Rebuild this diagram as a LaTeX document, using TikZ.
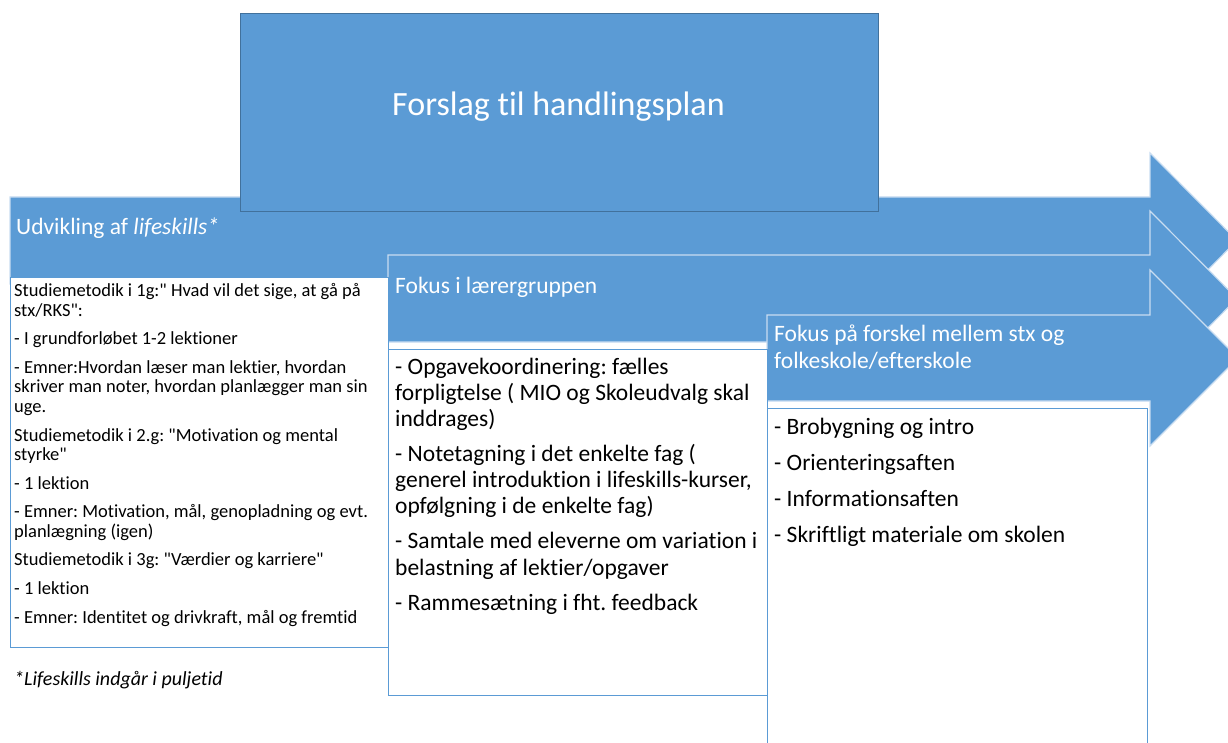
\documentclass[tikz,border=0pt]{standalone}
\usepackage{fontspec}
\setmainfont{Carlito}[Ligatures={TeX,NoCommon}]
\usetikzlibrary{positioning}
\tikzset{>=latex}
\frenchspacing
\definecolor{planblaa}{HTML}{5B9BD5}
\definecolor{kantblaa}{HTML}{41719C}
\definecolor{lysblaa}{HTML}{C9DDF1}
\newcommand{\anf}{\textquotedbl}
\tikzset{
  pilform/.style={fill=planblaa,draw=lysblaa,line width=1.2pt,line join=miter},
  feltboks/.style={fill=white,draw=planblaa,line width=1pt},
  overskrift/.style={anchor=base west,inner sep=0pt,text=white,align=left,font=\fontsize{23.5}{26.3}\selectfont},
  punktliste/.style={anchor=base west,inner sep=0pt,align=left}
}

\begin{document}
\begin{tikzpicture}[x=1pt,y=-1pt]
      \useasboundingbox (0,0) rectangle (1228,743);
      \clip (0,0) rectangle (1228,743);

      \draw [pilform] (10,197) -- (1150,197) -- (1150,153) -- (1237,240.5) -- (1150,328) -- (1150,284) -- (10,284) -- cycle;
      \node [fill=planblaa,draw=kantblaa,line width=1pt,minimum width=638pt,minimum height=198pt] (titel) at (559,113) {};
      \node [anchor=base,inner sep=0pt,text=white,font=\fontsize{34}{40}\selectfont] (titeltekst) at (558.5,116) {Forslag til handlingsplan};
      \draw [pilform] (388,255) -- (1150,255) -- (1150,211) -- (1237,298.5) -- (1150,386) -- (1150,342) -- (388,342) -- cycle;
      \draw [pilform] (767,315) -- (1150,315) -- (1150,270) -- (1238,358) -- (1150,446) -- (1150,401) -- (767,401) -- cycle;

      \draw [feltboks] (10,277) rectangle (388,647);
      \draw [feltboks] (388,349) rectangle (767,695);
      \draw [feltboks] (767,408) rectangle (1147,760);

      \node [overskrift] (livsfaerdighed) at (16,235) {Udvikling af \textit{lifeskills*}};
      \node [overskrift] (laerergruppe) at (395,294) {Fokus i lærergruppen};
      \node [overskrift] (overgang) at (774,368) {Fokus på forskel mellem stx og\\folkeskole/efterskole};

      \node [punktliste,font=\fontsize{18.5}{19.5}\selectfont] (studiemetodik) at (14,623)
        {Studiemetodik i 1g:\anf{} Hvad vil det sige, at gå på\\
         stx/RKS\anf:\\[9.1pt]
         - I grundforløbet 1-2 lektioner\\[9.1pt]
         - Emner:Hvordan læser man lektier, hvordan\\
         skriver man noter, hvordan planlægger man sin\\
         uge.\\[9.1pt]
         Studiemetodik i 2.g: \anf Motivation og mental\\
         styrke\anf\\[9.1pt]
         - 1 lektion\\[9.1pt]
         - Emner: Motivation, mål, genopladning og evt.\\
         planlægning (igen)\\[9.1pt]
         Studiemetodik i 3g: \anf Værdier og karriere\anf\\[9.1pt]
         - 1 lektion\\[9.1pt]
         - Emner: Identitet og drivkraft, mål og fremtid};
      \node [punktliste,font=\fontsize{23.5}{26.2}\selectfont] (tiltag) at (395,610)
        {- Opgavekoordinering: fælles\\
         forpligtelse ( MIO og Skoleudvalg skal\\
         inddrages)\\[8.8pt]
         - Notetagning i det enkelte fag (\\
         generel introduktion i lifeskills-kurser,\\
         opfølgning i de enkelte fag)\\[8.8pt]
         - Samtale med eleverne om variation i\\
         belastning af lektier/opgaver\\[8.8pt]
         - Rammesætning i fht. feedback};
      \node [punktliste,font=\fontsize{23.5}{26.2}\selectfont] (aktiviteter) at (774,542.7)
        {- Brobygning og intro\\[10pt]
         - Orienteringsaften\\[10pt]
         - Informationsaften\\[10pt]
         - Skriftligt materiale om skolen};
      \node [anchor=base west,inner sep=0pt,font=\fontsize{20}{24}\selectfont\itshape] (fodnote) at (14,685) {*Lifeskills indgår i puljetid};
\end{tikzpicture}
\end{document}
